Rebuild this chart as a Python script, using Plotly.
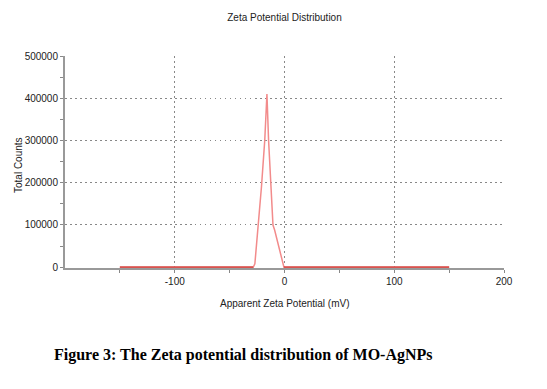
import plotly.graph_objects as go

# Data
zeta_mv = [-150, -28.5, -27, -24, -21, -18, -16, -14.5, -12.5, -10.5, -9, -6, -3, -0.5, 150]
total_counts = [0, 0, 8000, 95000, 190000, 300000, 410000, 300000, 200000, 100000, 88000, 55000, 25000, 0, 0]

x_ticks = [-100, 0, 100, 200]
x_tick_labels = ["-100", "0", "100", "200"]
y_ticks = [0, 100000, 200000, 300000, 400000, 500000]
y_tick_labels = [str(v) for v in y_ticks]

fig = go.Figure()
fig.add_trace(go.Scatter(
    x=zeta_mv, y=total_counts, mode="lines",
    line=dict(color="#f28b8b", width=1.5), showlegend=False,
))
# darker red baseline segments where counts are zero
fig.add_trace(go.Scatter(x=zeta_mv[:2], y=total_counts[:2], mode="lines",
                         line=dict(color="#d9534f", width=2), showlegend=False))
fig.add_trace(go.Scatter(x=zeta_mv[-2:], y=total_counts[-2:], mode="lines",
                         line=dict(color="#d9534f", width=2), showlegend=False))

axis_font = dict(family="Arial, Liberation Sans, sans-serif", size=10, color="#222")
title_font = dict(family="Arial, Liberation Sans, sans-serif", size=10, color="#222")

L, R, T, B = 65, 43, 56, 121
W, H = 547, 389
pw, ph = W - L - R, H - T - B

fig.update_layout(
    width=W, height=H,
    margin=dict(l=L, r=R, t=T, b=B),
    paper_bgcolor="white", plot_bgcolor="white",
    title=dict(text="Zeta Potential Distribution", x=0.5, xref="paper", xanchor="center",
               y=1 - 17 / H, yanchor="middle", font=title_font),
    xaxis=dict(
        range=[-200, 200], tickvals=x_ticks, ticktext=x_tick_labels,
        ticks="outside", ticklen=3, tickcolor="#888",
        showgrid=True, gridcolor="#888", griddash="1.5px,3.5px", gridwidth=1.2,
        showline=True, linecolor="#999", linewidth=2, zeroline=False,
        layer="below traces", automargin=False,
        tickfont=axis_font,
        minor=dict(tickvals=[-150, -50, 50, 150], ticks="outside", ticklen=3, tickcolor="#888", showgrid=False),
    ),
    yaxis=dict(
        range=[-1800, 500000], tickvals=y_ticks, ticktext=y_tick_labels,
        ticks="outside", ticklen=3, tickcolor="#888",
        showgrid=True, gridcolor="#888", griddash="1.5px,3.5px", gridwidth=1.2,
        showline=True, linecolor="#999", linewidth=2, zeroline=False,
        layer="below traces", automargin=False,
        tickfont=axis_font,
        minor=dict(dtick=50000, ticks="outside", ticklen=3, tickcolor="#888", showgrid=False),
    ),
)

# axis titles as annotations for precise placement
fig.add_annotation(text="Apparent Zeta Potential (mV)", xref="paper", yref="paper",
                   x=0.5, y=-(303 - (T + ph)) / ph, xanchor="center", yanchor="middle",
                   showarrow=False, font=title_font)
fig.add_annotation(text="Total Counts", xref="paper", yref="paper",
                   x=(18 - L) / pw, y=1 - (165 - T) / ph, xanchor="center", yanchor="middle",
                   textangle=-90, showarrow=False, font=title_font)

fig.add_annotation(
    text="<b>Figure 3: The Zeta potential distribution of MO-AgNPs</b>",
    xref="paper", yref="paper", x=(52 - L) / pw, y=-(355 - (T + ph)) / ph,
    xanchor="left", yanchor="middle", showarrow=False,
    font=dict(family="Liberation Serif, Times New Roman, serif", size=16, color="black"),
)

fig.write_html("out.html", config={"displayModeBar": False},
               post_script="document.body.style.margin='0';")
